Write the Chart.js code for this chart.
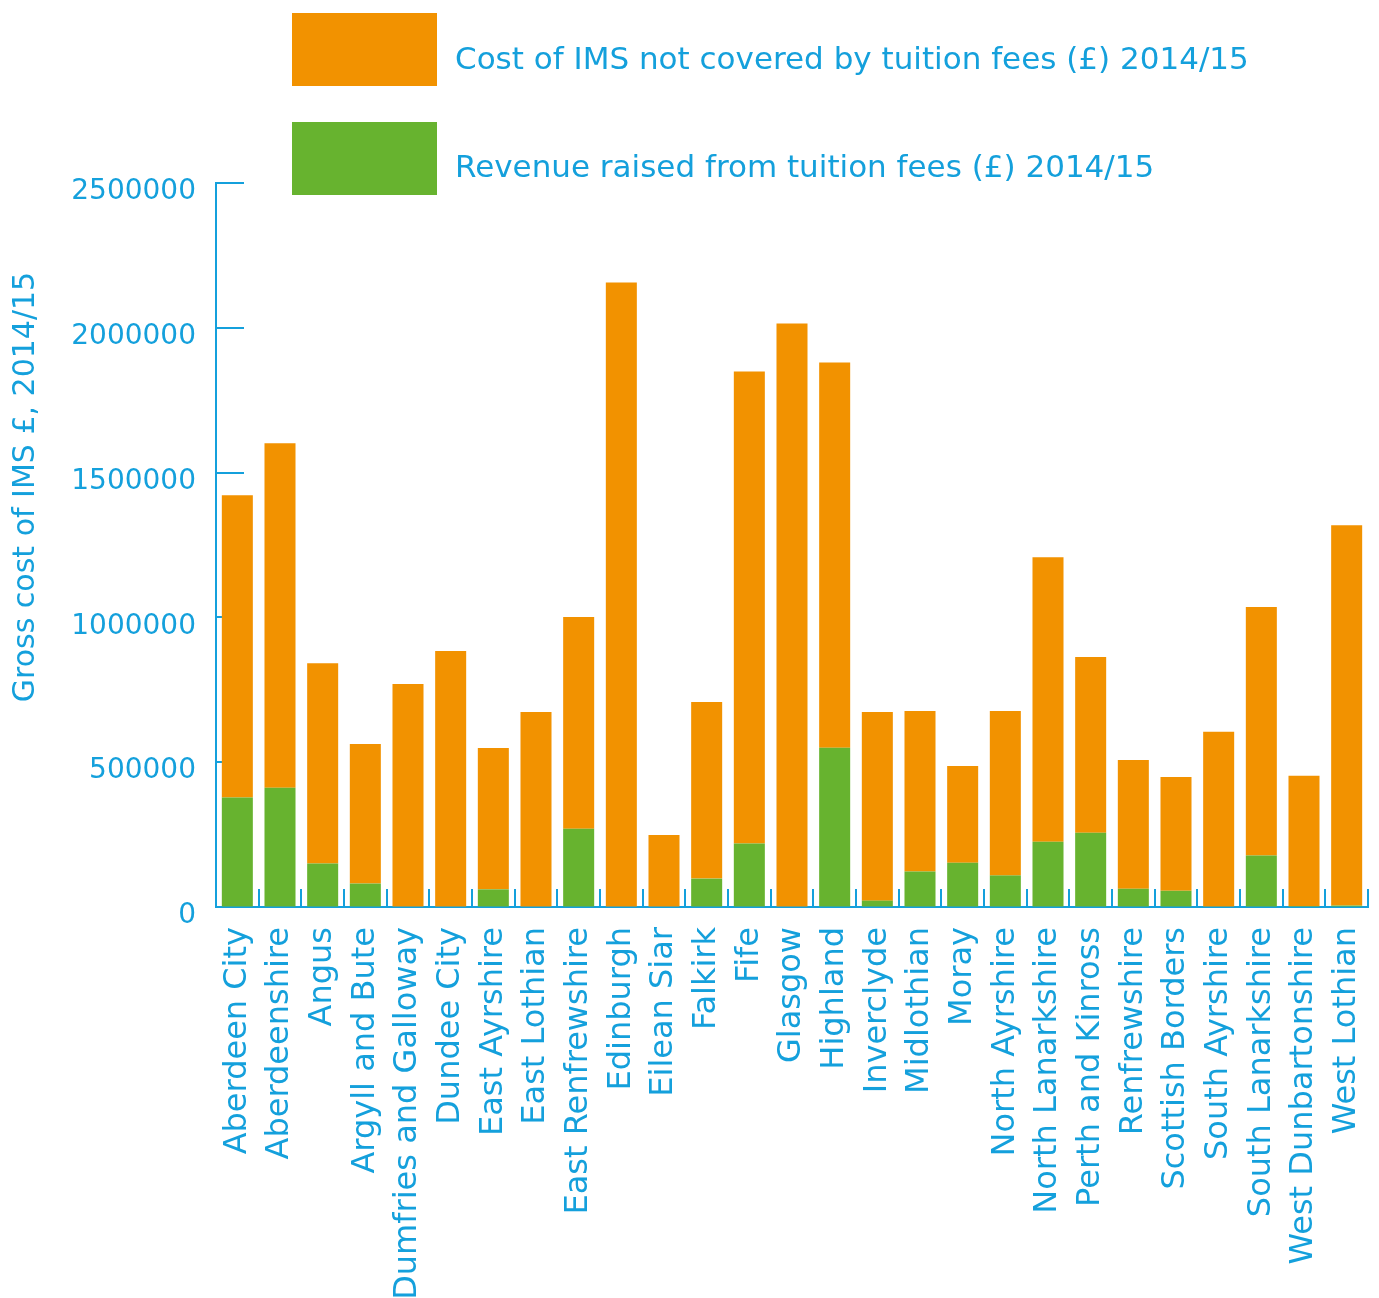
<!DOCTYPE html>
<html lang="en">
  <head>
    <meta charset="UTF-8" />
    <title>Gross cost of IMS 2014/15</title>
    <script src="https://cdn.jsdelivr.net/npm/chart.js"></script>
    <style>
      body { margin: 0; background: #fff; }
      #wrap { position: relative; width: 1379px; height: 1298px; }
      #legend .box { position: absolute; left: 292px; width: 145px; height: 73px; }
      #legend .txt {
        position: absolute; left: 455px; font-family: "DejaVu Sans", sans-serif;
        font-size: 31px; line-height: 31px; color: #14a0dc; white-space: nowrap;
      }
    </style>
  </head>

  <body>
    <div id="wrap">
      <canvas id="ims-chart" width="1379" height="1298"></canvas>
      <div id="legend"></div>
    </div>

    <script>
      const BLUE = "#14a0dc";

      const councils = [
        "Aberdeen City", "Aberdeenshire", "Angus", "Argyll and Bute",
        "Dumfries and Galloway", "Dundee City", "East Ayrshire", "East Lothian",
        "East Renfrewshire", "Edinburgh", "Eilean Siar", "Falkirk", "Fife",
        "Glasgow", "Highland", "Inverclyde", "Midlothian", "Moray",
        "North Ayrshire", "North Lanarkshire", "Perth and Kinross", "Renfrewshire",
        "Scottish Borders", "South Ayrshire", "South Lanarkshire",
        "West Dunbartonshire", "West Lothian",
      ];

      // revenue raised from tuition fees (£) 2014/15
      const feeRevenue = [
        378000, 412000, 150000, 81000, 0, 0, 61000, 0, 270000, 0, 0, 98000,
        219000, 0, 550000, 22000, 123000, 153000, 109000, 225000, 256000,
        63000, 56000, 2000, 178000, 3000, 5000,
      ];

      // cost of IMS not covered by tuition fees (£) 2014/15
      const notCovered = [
        1044000, 1189000, 692000, 482000, 770000, 884000, 488000, 673000,
        731000, 2156000, 249000, 610000, 1630000, 2015000, 1330000, 651000,
        554000, 334000, 568000, 983000, 607000, 445000, 393000, 603000,
        858000, 450000, 1313000,
      ];

      const yTicks = [0, 500000, 1000000, 1500000, 2000000, 2500000];
      const yTitle = "Gross cost of IMS £, 2014/15";

      Chart.defaults.font.family = "'DejaVu Sans', sans-serif";
      Chart.defaults.color = BLUE;

      // inward tick marks on both axes + rotated y title
      const axisMarks = {
        id: "axisMarks",
        beforeDatasetsDraw(chart) {
          const { ctx, chartArea, scales } = chart;
          ctx.save();
          ctx.strokeStyle = BLUE;
          ctx.lineWidth = 2;
          ctx.beginPath();
          scales.y.ticks.forEach((t, i) => {
            const py = Math.round(scales.y.getPixelForTick(i));
            ctx.moveTo(chartArea.left, py);
            ctx.lineTo(chartArea.left + 28, py);
          });
          for (let i = 0; i <= councils.length; i++) {
            const px = Math.round(scales.x.getPixelForValue(i - 0.5));
            ctx.moveTo(px, chartArea.bottom);
            ctx.lineTo(px, chartArea.bottom - 18);
          }
          ctx.stroke();
          ctx.restore();
        },
        afterDraw(chart) {
          const { ctx } = chart;
          ctx.save();
          ctx.translate(26, 487);
          ctx.rotate(-Math.PI / 2);
          ctx.font = "30px 'DejaVu Sans'";
          ctx.fillStyle = BLUE;
          ctx.textAlign = "center";
          ctx.textBaseline = "middle";
          ctx.fillText(yTitle, 0, 0);
          ctx.restore();
        },
      };

      const chart = new Chart(document.getElementById("ims-chart"), {
        type: "bar",
        data: {
          labels: councils,
          datasets: [
            {
              label: "Revenue raised from tuition fees (£) 2014/15",
              data: feeRevenue,
              backgroundColor: "#67b32f",
            },
            {
              label: "Cost of IMS not covered by tuition fees (£) 2014/15",
              data: notCovered,
              backgroundColor: "#f29200",
            },
          ],
        },
        options: {
          responsive: false,
          animation: false,
          devicePixelRatio: 1,
          layout: { padding: { top: 183, right: 11, left: 0, bottom: 0 } },
          barPercentage: 0.727,
          categoryPercentage: 1,
          plugins: { legend: { display: false }, tooltip: { enabled: false } },
          scales: {
            x: {
              stacked: true,
              grid: { drawOnChartArea: false, drawTicks: false },
              border: { color: BLUE, width: 2 },
              ticks: {
                autoSkip: false,
                minRotation: 90,
                maxRotation: 90,
                padding: 20,
                font: { size: 32 },
              },
              afterFit: (s) => {
                s.height = 391;
                s.paddingLeft = 0;
                s.paddingRight = 0;
              },
            },
            y: {
              stacked: true,
              min: 0,
              max: 2500000,
              grid: { drawOnChartArea: false, drawTicks: false },
              border: { color: BLUE, width: 2 },
              afterBuildTicks: (s) => { s.ticks = yTicks.map((v) => ({ value: v })); },
              ticks: {
                padding: 20,
                labelOffset: 9,
                font: { size: 28 },
                callback: (v) => String(v),
              },
              afterFit: (s) => {
                s.width = 216;
                s.paddingTop = 0;
                s.paddingBottom = 0;
              },
            },
          },
        },
        plugins: [axisMarks],
      });

      // legend: cost first, revenue second, stacked vertically
      const legend = document.getElementById("legend");
      [chart.data.datasets[1], chart.data.datasets[0]].forEach((ds, i) => {
        const box = document.createElement("div");
        box.className = "box";
        box.style.top = 13 + i * 109 + "px";
        box.style.background = ds.backgroundColor;
        const txt = document.createElement("div");
        txt.className = "txt";
        txt.style.top = 43 + i * 108 + "px";
        txt.textContent = ds.label;
        legend.append(box, txt);
      });
    </script>
  </body>
</html>
